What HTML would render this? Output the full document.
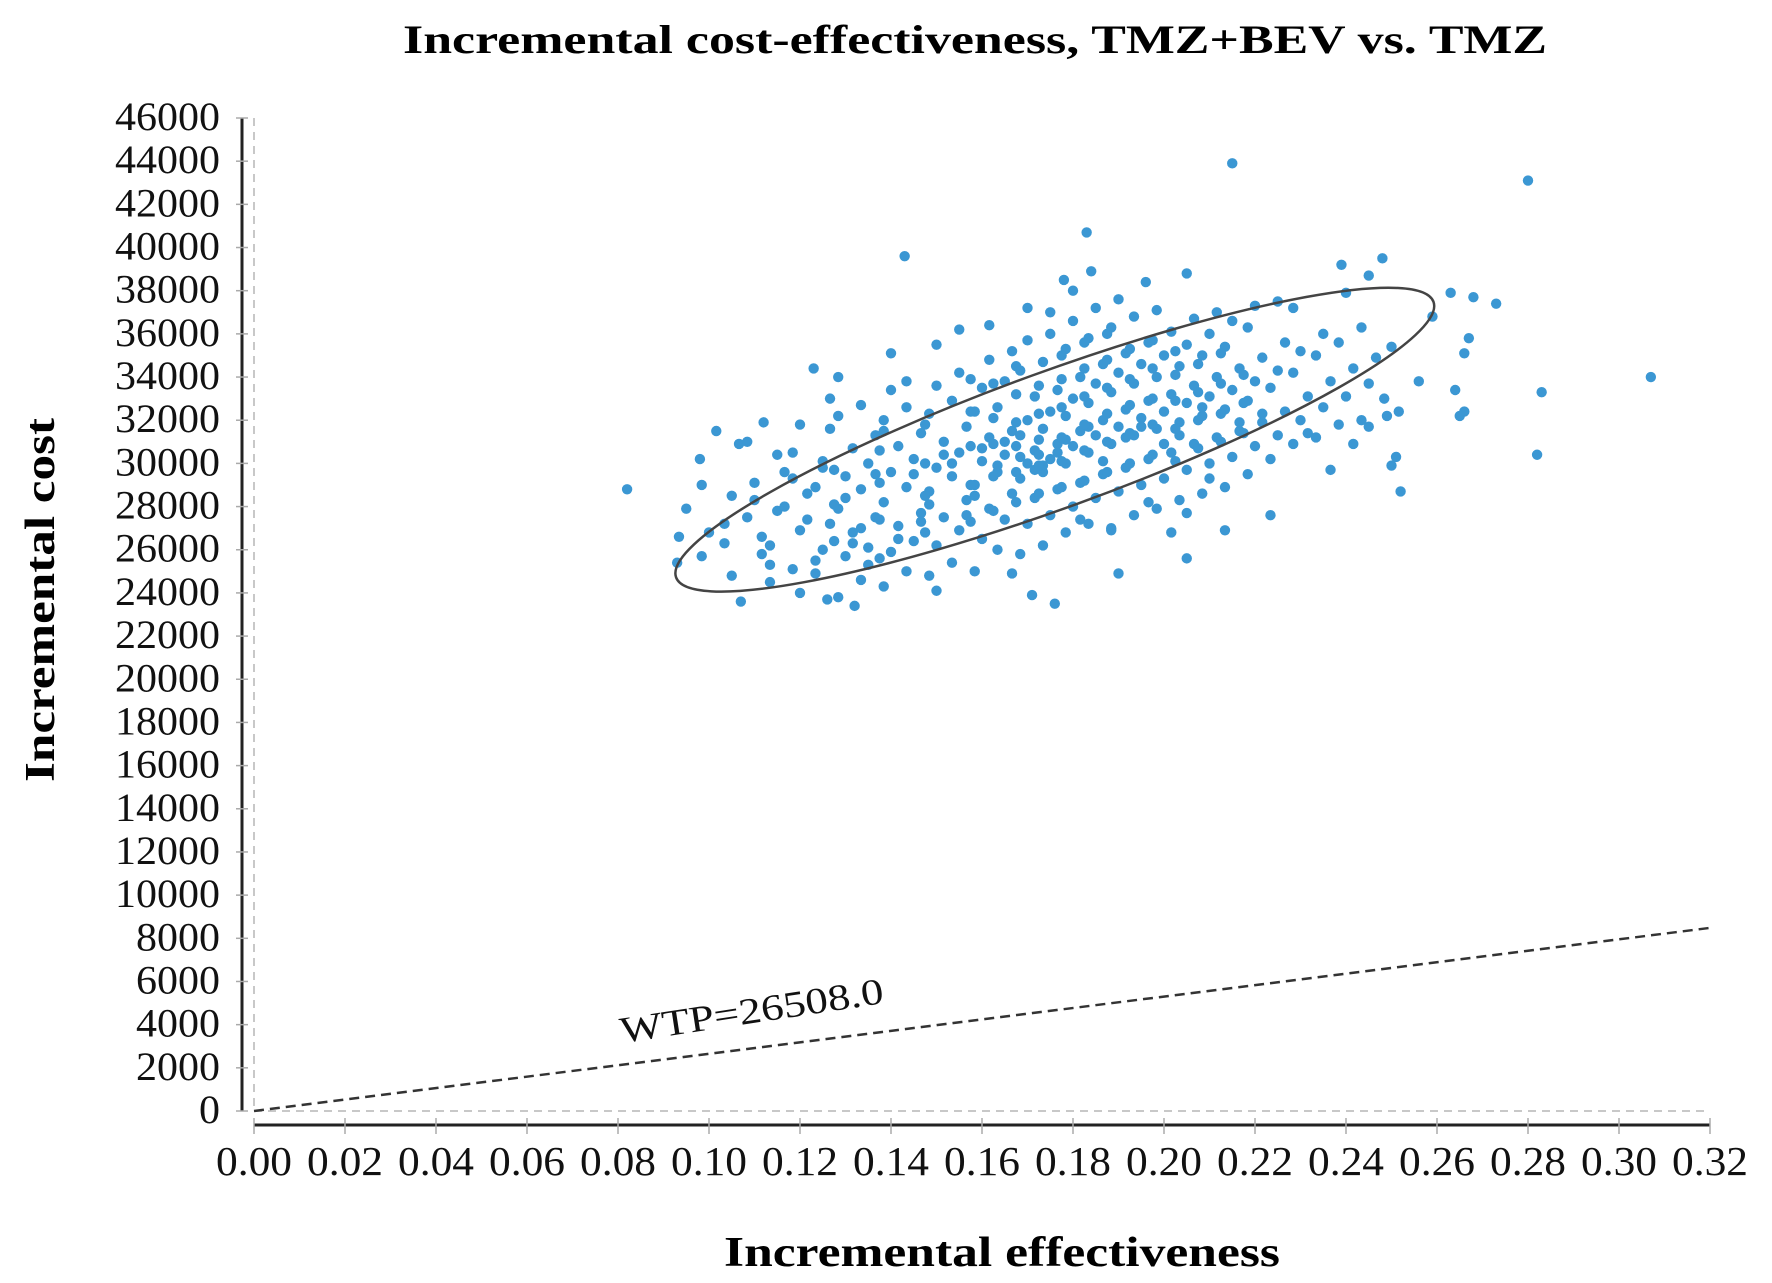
<!DOCTYPE html>
<html><head><meta charset="utf-8"><style>html,body{margin:0;padding:0;background:#fff}svg{display:block;font-family:"Liberation Serif",serif}</style></head>
<body>
<svg id="chart" width="1772" height="1283" viewBox="0 0 1772 1283" xmlns="http://www.w3.org/2000/svg">
<text x="975" y="53" text-anchor="middle" font-size="40" font-weight="bold" textLength="1144" lengthAdjust="spacingAndGlyphs">Incremental cost-effectiveness, TMZ+BEV vs. TMZ</text>
<text x="1002" y="1266" text-anchor="middle" font-size="42" font-weight="bold" textLength="556" lengthAdjust="spacingAndGlyphs">Incremental effectiveness</text>
<text x="0" y="0" transform="translate(54,600) rotate(-90)" text-anchor="middle" font-size="42" font-weight="bold" textLength="364" lengthAdjust="spacingAndGlyphs">Incremental cost</text>
<g id="axes"></g>
<g id="marks"></g>
</svg>
<script>
const xTicks = [0,0.02,0.04,0.06,0.08,0.10,0.12,0.14,0.16,0.18,0.20,0.22,0.24,0.26,0.28,0.30,0.32];
const xTickLabels = ["0.00","0.02","0.04","0.06","0.08","0.10","0.12","0.14","0.16","0.18","0.20","0.22","0.24","0.26","0.28","0.30","0.32"];
const yTicks = [0,2000,4000,6000,8000,10000,12000,14000,16000,18000,20000,22000,24000,26000,28000,30000,32000,34000,36000,38000,40000,42000,44000,46000];
const wtp = 26508.0;
const outlierX = [0.082,0.215,0.280,0.307,0.283,0.282,0.143,0.183,0.273,0.268,0.267,0.266,0.266,0.265,0.264,0.263,0.259,0.256,0.252,0.251,0.250,0.249,0.248,0.239,0.245,0.123,0.112,0.098,0.093,0.107,0.132,0.176,0.171,0.190,0.205,0.150,0.126,0.178,0.184,0.205,0.196];
const outlierY = [28.8,43.9,43.1,34.0,33.3,30.4,39.6,40.7,37.4,37.7,35.8,35.1,32.4,32.2,33.4,37.9,36.8,33.8,28.7,30.3,29.9,32.2,39.5,39.2,38.7,34.4,31.9,30.2,25.4,23.6,23.4,23.5,23.9,24.9,25.6,24.1,23.7,38.5,38.9,38.8,38.4];
const clusterX = [0.095,0.100,0.105,0.110,0.115,0.120,0.125,0.130,0.135,0.140,0.145,0.150,0.155,0.160,0.165,0.170,0.175,0.180,0.185,0.190,0.195,0.200,0.205,0.210,0.215,0.220,0.225,0.230,0.235,0.240,0.245,0.250];
const clusterY = [
[26.6,27.9],
[25.7,26.8,31.5,29.0],
[26.3,28.5,30.9,27.2,24.8],
[27.5,29.1,25.8,31.0,28.3,26.6],
[24.5,27.8,29.6,26.2,30.4,28.0,25.3],
[25.1,26.9,28.6,30.5,31.8,27.4,29.3,24.0],
[24.9,26.0,27.2,28.9,30.1,31.6,25.5,29.8,33.0],
[23.8,25.7,26.8,27.9,29.4,30.7,32.2,28.4,26.3,34.0],
[24.6,26.1,27.5,28.8,30.0,31.3,32.7,25.3,29.5,27.0],
[24.3,25.9,27.1,28.2,29.6,30.8,32.0,33.4,26.5,31.5,35.1],
[25.0,26.4,27.7,28.9,30.2,31.4,32.6,29.5,27.3,33.8],
[24.8,26.2,27.5,28.7,29.8,31.0,32.3,33.6,30.4,28.1,35.5],
[25.4,26.9,28.3,29.4,30.5,31.7,32.9,34.2,27.6,30.0,36.2],
[25.0,26.5,27.9,29.0,30.1,31.2,32.4,33.5,34.8,28.5,30.7,36.4],
[26.0,27.4,28.6,29.6,30.4,31.5,32.6,33.8,35.2,29.9,31.0,24.9],
[25.8,27.2,28.4,29.3,30.0,30.6,31.3,32.0,33.1,34.3,35.7,29.7,30.3,37.2],
[26.2,27.6,28.8,29.6,30.2,30.9,31.6,32.4,33.4,34.7,36.0,30.5,29.9,37.0],
[26.8,28.0,29.1,30.0,30.8,31.5,32.2,33.0,34.0,35.3,36.6,27.4,31.1,38.0],
[27.2,28.4,29.5,30.5,31.3,32.0,32.8,33.7,34.6,35.8,37.2,30.1,31.7],
[27.0,28.7,29.8,30.9,31.7,32.5,33.3,34.2,35.1,36.3,37.6,31.2,26.9],
[27.6,29.0,30.2,31.3,32.1,32.9,33.7,34.6,35.6,36.8,31.7,28.2],
[27.9,29.3,30.5,31.6,32.4,33.2,34.0,35.0,36.1,37.1,30.9,26.8],
[28.3,29.7,30.9,31.9,32.8,33.6,34.5,35.5,36.7,31.3,27.7],
[28.6,30.0,31.2,32.2,33.1,34.0,35.0,36.0,37.0,32.6,29.3],
[28.9,30.3,31.5,32.5,33.4,34.4,35.4,36.6,31.9,26.9],
[29.5,30.8,31.9,32.9,33.8,34.9,36.3,37.3,32.3],
[30.2,31.3,32.4,33.5,34.3,35.6,27.6,37.5],
[30.9,32.0,33.1,34.2,35.2,31.4,37.2],
[31.2,32.6,33.8,35.0,36.0,29.7],
[31.8,33.1,34.4,35.6,37.9,30.9],
[32.0,33.7,34.9,36.3,31.7],
[33.0,35.4,32.4]
];
const denseX = [0.1275,0.1375,0.1475,0.1575,0.1625,0.1675,0.1725,0.1775,0.1825,0.1875,0.1925,0.1975,0.2025,0.2075,0.2125,0.2175];
const denseY = [
[26.4,28.1,29.7],
[25.6,27.4,29.1,30.6],
[26.8,28.5,30.0,31.8],
[27.3,29.0,30.8,32.4,33.9],
[27.8,29.4,30.9,32.1,33.7],
[28.2,29.6,30.8,31.9,33.2,34.5],
[28.6,29.9,30.4,31.1,32.3,33.6],
[28.9,30.1,31.2,32.6,33.9,35.0],
[29.2,30.6,31.8,33.1,34.4,35.6],
[29.6,31.0,32.3,33.5,34.8,36.0],
[30.0,31.4,32.7,33.9,35.3],
[30.4,31.8,33.0,34.4,35.7],
[30.1,31.6,32.9,34.1,35.2],
[30.7,32.0,33.3,34.6],
[31.0,32.3,33.7,35.1],
[31.4,32.8,34.1]
];
const ellipseCenter = [0.176, 31100];

const X0=254, X1=1710, Y0=1111, Y1=118;
const xs = v => X0 + (v-0)/(0.32)*(X1-X0);
const ys = v => Y0 - v/46000*(Y0-Y1);
const NS='http://www.w3.org/2000/svg';
const axes=document.getElementById('axes'), marks=document.getElementById('marks');
function mk(tag, parent, attrs){const e=document.createElementNS(NS,tag);for(const k in attrs)e.setAttribute(k,attrs[k]);parent.appendChild(e);return e;}

let e=mk('line',axes,{x1:X0,y1:Y1,x2:X0,y2:Y0,stroke:'#c8c8c8','stroke-width':2,'stroke-dasharray':'8,6'});


e=mk('line',axes,{x1:X0,y1:Y0,x2:X1,y2:Y0,stroke:'#c8c8c8','stroke-width':2,'stroke-dasharray':'8,6'});


e=mk('line',axes,{x1:242,y1:Y1,x2:242,y2:Y0,stroke:'#222','stroke-width':3});


e=mk('line',axes,{x1:X0,y1:1125,x2:X1,y2:1125,stroke:'#222','stroke-width':3});



yTicks.forEach(v=>{
  const y=ys(v);
  let t=mk('line',axes,{x1:236,y1:y,x2:248,y2:y,stroke:'#aaa','stroke-width':1.5});
  
  
  const s=String(v);
  t=mk('text',axes,{x:220,y:y+12,'text-anchor':'end','font-size':40,textLength:s.length*21,lengthAdjust:'spacingAndGlyphs',fill:'#111'});
  t.textContent=s;
  
  
});
xTicks.forEach((v,i)=>{
  const x=xs(v);
  let t=mk('line',axes,{x1:x,y1:1118,x2:x,y2:1134,stroke:'#aaa','stroke-width':1.5});
  
  
  t=mk('text',axes,{x:x,y:1175,'text-anchor':'middle','font-size':41,textLength:76,lengthAdjust:'spacingAndGlyphs',fill:'#111'});
  t.textContent=xTickLabels[i];
  
  
});

e=mk('line',marks,{x1:xs(0),y1:ys(0),x2:xs(0.32),y2:ys(0.32*wtp),stroke:'#333','stroke-width':2.5,'stroke-dasharray':'10,6'});


const ang=Math.atan2(ys(0.32*wtp)-ys(0),xs(0.32)-xs(0))*180/Math.PI;
e=mk('text',marks,{x:0,y:0,transform:`translate(622,1043) rotate(${ang-1.5})`,'font-size':37,textLength:266,lengthAdjust:'spacingAndGlyphs',fill:'#111'});
e.textContent='WTP='+wtp.toFixed(1);



function dot(x,y){
  const c=mk('circle',marks,{cx:xs(x),cy:ys(y*1000),r:5.2,fill:'#3b97d3'});
  
  
}
clusterX.forEach((x,i)=>clusterY[i].forEach((y,j)=>dot(x+((j%3)-1)*0.0016,y)));
denseX.forEach((x,i)=>denseY[i].forEach(y=>dot(x,y)));
outlierX.forEach((x,i)=>dot(x,outlierY[i]));

e=mk('ellipse',marks,{cx:0,cy:0,rx:403,ry:68,fill:'none',stroke:'#444','stroke-width':2.5,transform:`translate(${xs(ellipseCenter[0])},${ys(ellipseCenter[1])}) rotate(-20)`});


</script>
</body></html>
